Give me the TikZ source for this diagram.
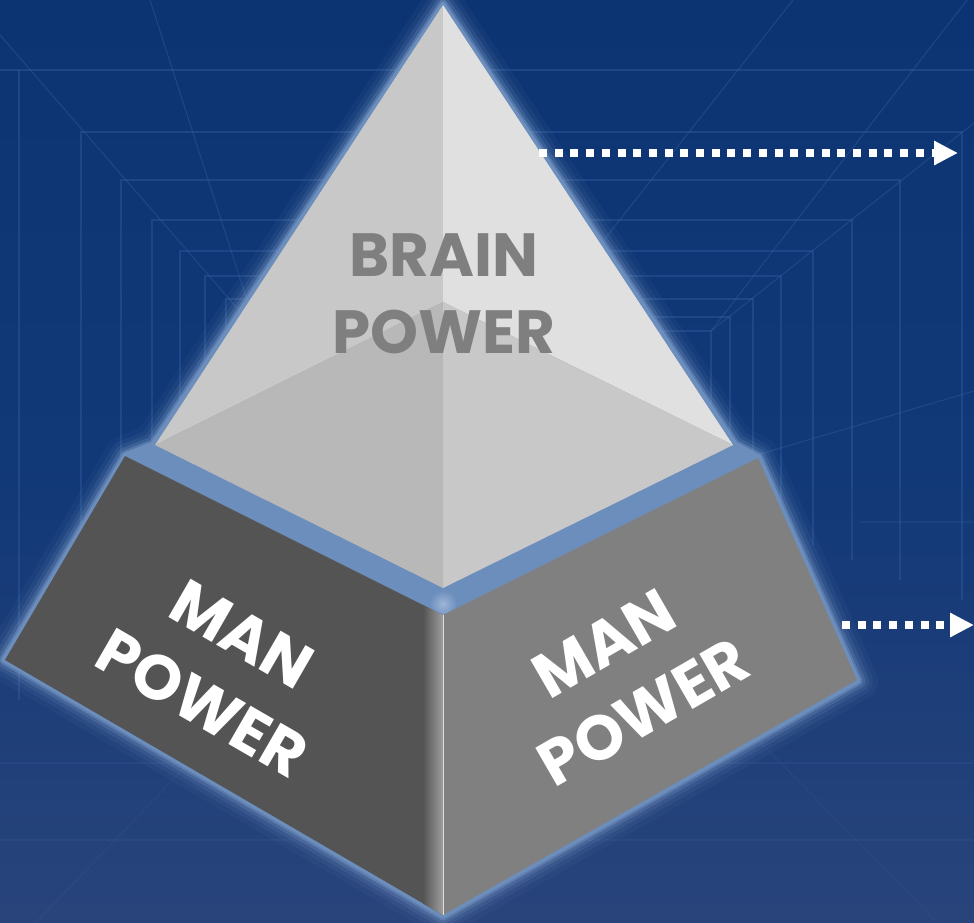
\documentclass[tikz,border=0pt]{standalone}
\usepackage{fontspec}
\setmainfont{Poppins}
\usetikzlibrary{arrows.meta}
\definecolor{bgtop}{HTML}{0D3472}
\definecolor{bgmid}{HTML}{113877}
\definecolor{bgbot}{HTML}{29447B}
\definecolor{gridc}{HTML}{3A6AAE}
\definecolor{glowc}{HTML}{6C8EBD}
\definecolor{halo}{HTML}{86A5D0}
\definecolor{faceUL}{HTML}{C8C8C8}
\definecolor{faceUR}{HTML}{E0E0E0}
\definecolor{faceLL}{HTML}{B8B8B8}
\definecolor{faceLR}{HTML}{C8C8C8}
\definecolor{darkface}{HTML}{545454}
\definecolor{midface}{HTML}{808080}
\definecolor{labelgrey}{HTML}{7F7F7F}
\tikzset{
  gridline/.style={draw=gridc, line width=1.1pt, opacity=0.32},
  faintgrid/.style={draw=gridc, line width=1.1pt, opacity=0.16},
  dotarrow/.style={draw=white, line width=8.4pt, dash pattern=on 8pt off 7.7pt,
    -{Triangle[length=24pt,width=23pt,fill=white]}},
  toplabel/.style={text=labelgrey, font=\fontsize{61}{77}\selectfont\bfseries, align=center, inner sep=0pt},
  manlabel/.style={text=white, font=\fontsize{63}{79}\selectfont\bfseries, align=center, inner sep=0pt},
}
\begin{document}
\begin{tikzpicture}[x=1pt,y=-1pt]
\useasboundingbox (0,0) rectangle (974,922);
% background
\shade[top color=bgtop, bottom color=bgbot, middle color=bgmid] (0,0) rectangle (974,922);
% perspective grid (tunnel)
\foreach \l/\t/\r/\b in {81/132/962/600, 121/180/900/580, 152/220/852/560, 180/251/813/545, 205/276/781/530, 226/299/753/515, 243/317/730/505, 257/331/711/495}
  \draw[gridline] (\l,\b) -- (\l,\t) -- (\r,\t) -- (\r,\b);
\draw[gridline] (0,70) -- (974,70);
\draw[gridline] (19,70) -- (19,700);
\draw[gridline] (0,35) -- (257,331);
\draw[gridline] (974,123) -- (711,331);
\draw[gridline] (967,0) -- (711,331);
\draw[gridline] (793,0) -- (600,245);
\draw[gridline] (150,0) -- (257,331);
\draw[gridline] (974,391) -- (740,460);
\draw[faintgrid] (860,522) -- (974,522);
\draw[faintgrid] (0,763) -- (974,763);
\draw[faintgrid] (0,840) -- (974,840);
\draw[faintgrid] (0,960) -- (257,692);
\draw[faintgrid] (974,960) -- (711,692);
% glow halo
\def\outline{(443,4) -- (735,444) -- (759,457) -- (858,681) -- (443,916) -- (4,660) -- (125,455) -- (153,444) -- cycle}
\foreach \w/\o in {40/0.05, 30/0.08, 22/0.12, 15/0.2, 9/0.35}
  \draw[halo, line width=\w pt, line join=round, opacity=\o] \outline;
\fill[glowc] \outline;
\draw[glowc, line width=5pt, line join=round] \outline;
% top pyramid
\fill[faceUL] (443,5) -- (155,445) -- (443,302) -- cycle;
\fill[faceUR] (443,5) -- (733,445) -- (443,302) -- cycle;
\fill[faceLL] (155,445) -- (443,302) -- (443,588) -- cycle;
\fill[faceLR] (733,445) -- (443,302) -- (443,588) -- cycle;
% glow spot at the joint
\shade[inner color=halo!70!white, outer color=glowc, opacity=0.8] (443,604) circle (14pt);
% bottom faces
\fill[darkface] (125,456) -- (443,615) -- (443,915) -- (5,660) -- cycle;
\fill[midface] (443,615) -- (758,458) -- (857,680) -- (443,915) -- cycle;
\shade[left color=darkface, right color=black!38] (423,605) -- (443,615) -- (443,915) -- (423,903.5) -- cycle;
\draw[white!75!gray, line width=0.8pt] (443.4,615) -- (443.4,915);
% labels
\node[toplabel] (brain) at (444,294) {BRAIN\\POWER};
\node[manlabel, rotate=-30] (manL) at (222,669) {MAN\\POWER};
\node[manlabel, rotate=30] (manR) at (624,678) {MAN\\POWER};
% arrows
\coordinate (a1s) at (539,153);
\coordinate (a1e) at (958,153);
\coordinate (a2s) at (842,625);
\coordinate (a2e) at (974,625);
\draw[dotarrow] (a1s) -- (a1e);
\draw[dotarrow] (a2s) -- (a2e);
\end{tikzpicture}
\end{document}
